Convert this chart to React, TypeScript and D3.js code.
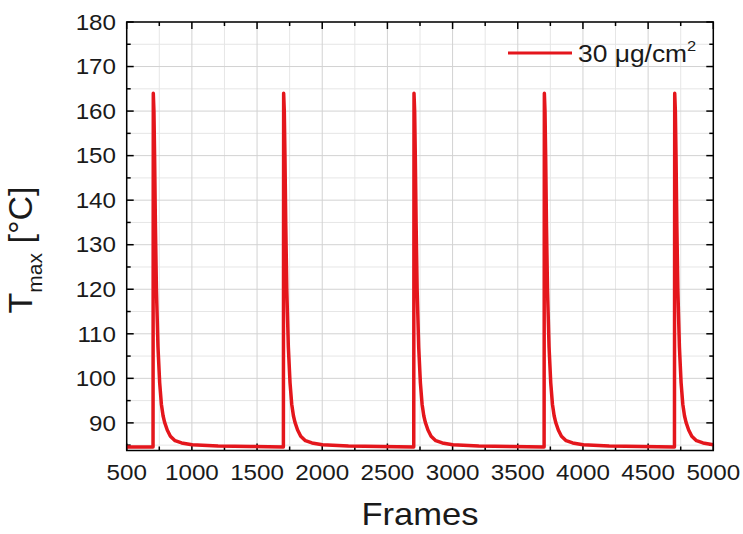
import React from "react";
import * as d3 from "d3";

const frames = [
  500, 702, 704, 709, 714, 720, 728, 740, 753, 766, 779, 791, 811, 835, 871, 921, 1001, 1201, 1450,
  1702, 1704, 1709, 1714, 1720, 1728, 1740, 1753, 1766, 1779, 1791, 1811, 1835, 1871, 1921, 2001, 2201, 2450,
  2702, 2704, 2709, 2714, 2720, 2728, 2740, 2753, 2766, 2779, 2791, 2811, 2835, 2871, 2921, 3001, 3201, 3450,
  3702, 3704, 3709, 3714, 3720, 3728, 3740, 3753, 3766, 3779, 3791, 3811, 3835, 3871, 3921, 4001, 4201, 4450,
  4702, 4704, 4709, 4714, 4720, 4728, 4740, 4753, 4766, 4779, 4791, 4811, 4835, 4871, 4921, 5000,
];
const tmax = [
  84.6, 84.6, 164, 160, 150, 135, 120, 107, 99, 94.2, 91.6, 90.1, 88.4, 87.0, 86.0, 85.5, 85.1, 84.8, 84.7,
  84.6, 164, 160, 150, 135, 120, 107, 99, 94.2, 91.6, 90.1, 88.4, 87.0, 86.0, 85.5, 85.1, 84.8, 84.7,
  84.6, 164, 160, 150, 135, 120, 107, 99, 94.2, 91.6, 90.1, 88.4, 87.0, 86.0, 85.5, 85.1, 84.8, 84.7,
  84.6, 164, 160, 150, 135, 120, 107, 99, 94.2, 91.6, 90.1, 88.4, 87.0, 86.0, 85.5, 85.1, 84.8, 84.7,
  84.6, 164, 160, 150, 135, 120, 107, 99, 94.2, 91.6, 90.1, 88.4, 87.0, 86.0, 85.5, 85.1,
];
const xMajorTicks = [500, 1000, 1500, 2000, 2500, 3000, 3500, 4000, 4500, 5000];
const xMinorTicks = [750, 1250, 1750, 2250, 2750, 3250, 3750, 4250, 4750];
const yMajorTicks = [90, 100, 110, 120, 130, 140, 150, 160, 170, 180];
const yMinorTicks = [85, 95, 105, 115, 125, 135, 145, 155, 165, 175];
const legendLabel = "30 μg/cm";
const xTitle = "Frames";

const W = 743;
const H = 534;
const L = 126.7, R = 713.3, T = 22, B = 450.5;
const FONT = "'Liberation Sans', Arial, sans-serif";
const RED = "#e4161c";
const SX = 1.1;

export default function App() {
  const x = d3.scaleLinear().domain([500, 5000]).range([L, R]);
  const y = d3.scaleLinear().domain([83.8, 180]).range([B, T]);
  const pts = frames.map((f, i) => [f, tmax[i]] as [number, number]);
  const line = d3.line<[number, number]>().x((d) => x(d[0])).y((d) => y(d[1]));
  const majLen = 7, minLen = 4;
  return (
    <svg width={W} height={H} style={{ position: "absolute", left: 0, top: 0, background: "#fff" }}>
      <defs>
        <clipPath id="pa"><rect x={L} y={T} width={R - L} height={B - T} /></clipPath>
      </defs>
      {xMinorTicks.map((t) => (
        <line key={"gxm" + t} x1={x(t)} x2={x(t)} y1={T} y2={B} stroke="#e6e6e6" strokeWidth={1} />
      ))}
      {yMinorTicks.map((t) => (
        <line key={"gym" + t} x1={L} x2={R} y1={y(t)} y2={y(t)} stroke="#e6e6e6" strokeWidth={1} />
      ))}
      {xMajorTicks.map((t) => (
        <line key={"gx" + t} x1={x(t)} x2={x(t)} y1={T} y2={B} stroke="#d2d2d2" strokeWidth={1} />
      ))}
      {yMajorTicks.map((t) => (
        <line key={"gy" + t} x1={L} x2={R} y1={y(t)} y2={y(t)} stroke="#d2d2d2" strokeWidth={1} />
      ))}
      <g stroke="#000" strokeWidth={1.5}>
        {xMajorTicks.map((t) => (
          <g key={"tx" + t}>
            <line x1={x(t)} x2={x(t)} y1={B} y2={B - majLen} />
            <line x1={x(t)} x2={x(t)} y1={T} y2={T + majLen} />
          </g>
        ))}
        {xMinorTicks.map((t) => (
          <g key={"txm" + t}>
            <line x1={x(t)} x2={x(t)} y1={B} y2={B - minLen} />
            <line x1={x(t)} x2={x(t)} y1={T} y2={T + minLen} />
          </g>
        ))}
        {yMajorTicks.map((t) => (
          <g key={"ty" + t}>
            <line x1={L} x2={L + majLen} y1={y(t)} y2={y(t)} />
            <line x1={R} x2={R - majLen} y1={y(t)} y2={y(t)} />
          </g>
        ))}
        {yMinorTicks.map((t) => (
          <g key={"tym" + t}>
            <line x1={L} x2={L + minLen} y1={y(t)} y2={y(t)} />
            <line x1={R} x2={R - minLen} y1={y(t)} y2={y(t)} />
          </g>
        ))}
      </g>
      <path d={line(pts) || ""} fill="none" stroke={RED} strokeWidth={3.5} strokeLinejoin="round" clipPath="url(#pa)" />
      <rect x={L} y={T} width={R - L} height={B - T} fill="none" stroke="#000" strokeWidth={1.5} />
      <g fontFamily={FONT} fontSize={22} fill="#1a1a1a">
        {xMajorTicks.map((t) => (
          <g key={"lx" + t} transform={`translate(${x(t)},480) scale(${SX},1)`}>
            <text textAnchor="middle">{t}</text>
          </g>
        ))}
        {yMajorTicks.map((t) => (
          <g key={"ly" + t} transform={`translate(116,${y(t)}) scale(${SX},1)`}>
            <text dy="0.35em" textAnchor="end">{t}</text>
          </g>
        ))}
      </g>
      <g transform={`translate(420,525) scale(1.08,1)`}>
        <text textAnchor="middle" fontFamily={FONT} fontSize={32} fill="#1a1a1a">{xTitle}</text>
      </g>
      <text transform="translate(32,250) rotate(-90)" textAnchor="middle" fontFamily={FONT} fill="#1a1a1a">
        <tspan fontSize={34}>T</tspan>
        <tspan fontSize={21} dy={10}>max</tspan>
        <tspan fontSize={34} dy={-10}> [°C]</tspan>
      </text>
      <line x1={508} x2={572} y1={53} y2={53} stroke={RED} strokeWidth={3} />
      <g transform={`translate(578,62) scale(${SX},1)`}>
        <text fontFamily={FONT} fontSize={24} fill="#1a1a1a">
          {legendLabel}
          <tspan fontSize={15} dy={-11}>2</tspan>
        </text>
      </g>
    </svg>
  );
}
